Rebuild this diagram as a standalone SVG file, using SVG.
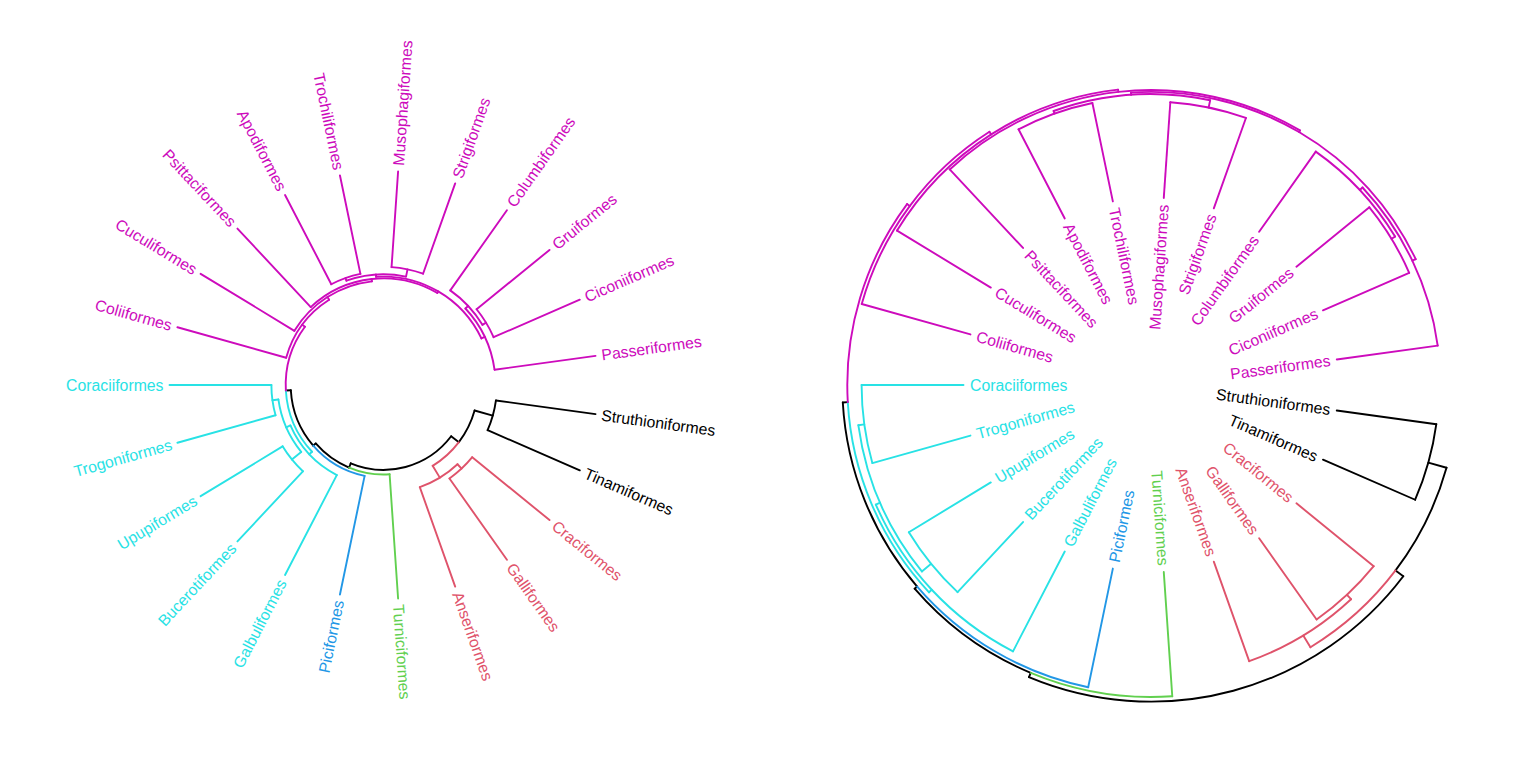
<svg xmlns="http://www.w3.org/2000/svg" width="1536" height="768" viewBox="0 0 1536 768">
<style>
.e path{fill:none;stroke-width:1.9;stroke-linecap:round}
.k path{stroke:#000}.r path{stroke:#DF536B}.g path{stroke:#61D04F}.b path{stroke:#2297E6}.c path{stroke:#28E2E5}.m path{stroke:#CD0BBC}
text{font-family:"Liberation Sans",Arial,Helvetica,sans-serif;font-size:15.8px}
.tk{fill:#000}.tr{fill:#DF536B}.tg{fill:#61D04F}.tb{fill:#2297E6}.tc{fill:#28E2E5}.tm{fill:#CD0BBC}
.s{text-anchor:start}.n{text-anchor:end}
</style>
<rect width="1536" height="768" fill="#fff"/>

<g id="left-tree" transform="translate(383.5 385)">
<g id="left-connectors" class="e">
<g class="k">
<path d="M84.9 0A84.9 84.9 0 1 1-84.9 0A84.9 84.9 0 1 1 84.9 0" pathLength="360" stroke-dasharray="75.5 360" transform="rotate(37.17)"/>
<path d="M94.6 0A94.6 94.6 0 1 1-94.6 0A94.6 94.6 0 1 1 94.6 0" pathLength="360" stroke-dasharray="21.52 360" transform="rotate(15.65)"/>
<path d="M113.5 0A113.5 113.5 0 1 1-113.5 0A113.5 113.5 0 1 1 113.5 0" pathLength="360" stroke-dasharray="15.65 360" transform="rotate(7.83)"/>
<path d="M89.5 0A89.5 89.5 0 1 1-89.5 0A89.5 89.5 0 1 1 89.5 0" pathLength="360" stroke-dasharray="26.58 360" transform="rotate(112.67)"/>
<path d="M92.8 0A92.8 92.8 0 1 1-92.8 0A92.8 92.8 0 1 1 92.8 0" pathLength="360" stroke-dasharray="37.51 360" transform="rotate(139.25)"/>
<path d="M84.9 0H94.6" transform="rotate(37.17)"/>
<path d="M84.9 0H89.5" transform="rotate(112.67)"/>
<path d="M94.6 0H113.5" transform="rotate(15.65)"/>
<path d="M113.5 0H214" transform="rotate(7.83)"/>
<path d="M113.5 0H214" transform="rotate(23.48)"/>
<path d="M89.5 0H92.8" transform="rotate(139.25)"/>
<path d="M92.8 0H97.8" transform="rotate(176.76)"/>
</g>
<g class="r">
<path d="M94.6 0A94.6 94.6 0 1 1-94.6 0A94.6 94.6 0 1 1 94.6 0" pathLength="360" stroke-dasharray="21.53 360" transform="rotate(37.17)"/>
<path d="M108.4 0A108.4 108.4 0 1 1-108.4 0A108.4 108.4 0 1 1 108.4 0" pathLength="360" stroke-dasharray="23.47 360" transform="rotate(46.96)"/>
<path d="M114.4 0A114.4 114.4 0 1 1-114.4 0A114.4 114.4 0 1 1 114.4 0" pathLength="360" stroke-dasharray="15.65 360" transform="rotate(39.13)"/>
<path d="M94.6 0H108.4" transform="rotate(58.70)"/>
<path d="M108.4 0H114.4" transform="rotate(46.96)"/>
<path d="M108.4 0H214" transform="rotate(70.43)"/>
<path d="M114.4 0H214" transform="rotate(39.13)"/>
<path d="M114.4 0H214" transform="rotate(54.78)"/>
</g>
<g class="g">
<path d="M89.5 0A89.5 89.5 0 1 1-89.5 0A89.5 89.5 0 1 1 89.5 0" pathLength="360" stroke-dasharray="26.58 360" transform="rotate(86.09)"/>
<path d="M89.5 0H214" transform="rotate(86.09)"/>
</g>
<g class="b">
<path d="M92.8 0A92.8 92.8 0 1 1-92.8 0A92.8 92.8 0 1 1 92.8 0" pathLength="360" stroke-dasharray="37.51 360" transform="rotate(101.74)"/>
<path d="M92.8 0H214" transform="rotate(101.74)"/>
</g>
<g class="c">
<path d="M97.8 0A97.8 97.8 0 1 1-97.8 0A97.8 97.8 0 1 1 97.8 0" pathLength="360" stroke-dasharray="39.8 360" transform="rotate(136.96)"/>
<path d="M101.5 0A101.5 101.5 0 1 1-101.5 0A101.5 101.5 0 1 1 101.5 0" pathLength="360" stroke-dasharray="39.13 360" transform="rotate(117.39)"/>
<path d="M106.1 0A106.1 106.1 0 1 1-106.1 0A106.1 106.1 0 1 1 106.1 0" pathLength="360" stroke-dasharray="31.3 360" transform="rotate(140.87)"/>
<path d="M118.1 0A118.1 118.1 0 1 1-118.1 0A118.1 118.1 0 1 1 118.1 0" pathLength="360" stroke-dasharray="15.66 360" transform="rotate(133.04)"/>
<path d="M112.1 0A112.1 112.1 0 1 1-112.1 0A112.1 112.1 0 1 1 112.1 0" pathLength="360" stroke-dasharray="15.65 360" transform="rotate(164.35)"/>
<path d="M97.8 0H101.5" transform="rotate(136.96)"/>
<path d="M101.5 0H214" transform="rotate(117.39)"/>
<path d="M101.5 0H106.1" transform="rotate(156.52)"/>
<path d="M106.1 0H118.1" transform="rotate(140.87)"/>
<path d="M106.1 0H112.1" transform="rotate(172.17)"/>
<path d="M118.1 0H214" transform="rotate(133.04)"/>
<path d="M118.1 0H214" transform="rotate(148.70)"/>
<path d="M112.1 0H214" transform="rotate(164.35)"/>
<path d="M112.1 0H214" transform="rotate(180)"/>
</g>
<g class="m">
<path d="M97.8 0A97.8 97.8 0 1 1-97.8 0A97.8 97.8 0 1 1 97.8 0" pathLength="360" stroke-dasharray="39.8 360" transform="rotate(176.76)"/>
<path d="M101.1 0A101.1 101.1 0 1 1-101.1 0A101.1 101.1 0 1 1 101.1 0" pathLength="360" stroke-dasharray="41.82 360" transform="rotate(195.65)"/>
<path d="M104.3 0A104.3 104.3 0 1 1-104.3 0A104.3 104.3 0 1 1 104.3 0" pathLength="360" stroke-dasharray="52.34 360" transform="rotate(211.30)"/>
<path d="M106.6 0A106.6 106.6 0 1 1-106.6 0A106.6 106.6 0 1 1 106.6 0" pathLength="360" stroke-dasharray="73.37 360" transform="rotate(226.96)"/>
<path d="M108.4 0A108.4 108.4 0 1 1-108.4 0A108.4 108.4 0 1 1 108.4 0" pathLength="360" stroke-dasharray="68.48 360" transform="rotate(266.09)"/>
<path d="M110.7 0A110.7 110.7 0 1 1-110.7 0A110.7 110.7 0 1 1 110.7 0" pathLength="360" stroke-dasharray="31.31 360" transform="rotate(250.43)"/>
<path d="M113.5 0A113.5 113.5 0 1 1-113.5 0A113.5 113.5 0 1 1 113.5 0" pathLength="360" stroke-dasharray="15.65 360" transform="rotate(242.61)"/>
<path d="M118.1 0A118.1 118.1 0 1 1-118.1 0A118.1 118.1 0 1 1 118.1 0" pathLength="360" stroke-dasharray="15.66 360" transform="rotate(273.91)"/>
<path d="M112.1 0A112.1 112.1 0 1 1-112.1 0A112.1 112.1 0 1 1 112.1 0" pathLength="360" stroke-dasharray="35.21 360" transform="rotate(316.96)"/>
<path d="M115.8 0A115.8 115.8 0 1 1-115.8 0A115.8 115.8 0 1 1 115.8 0" pathLength="360" stroke-dasharray="23.48 360" transform="rotate(305.22)"/>
<path d="M120 0A120 120 0 1 1-120 0A120 120 0 1 1 120 0" pathLength="360" stroke-dasharray="15.65 360" transform="rotate(320.87)"/>
<path d="M97.8 0H101.1" transform="rotate(216.56)"/>
<path d="M101.1 0H214" transform="rotate(195.65)"/>
<path d="M101.1 0H104.3" transform="rotate(237.47)"/>
<path d="M104.3 0H214" transform="rotate(211.30)"/>
<path d="M104.3 0H106.6" transform="rotate(263.64)"/>
<path d="M106.6 0H214" transform="rotate(226.96)"/>
<path d="M106.6 0H108.4" transform="rotate(300.33)"/>
<path d="M108.4 0H110.7" transform="rotate(266.09)"/>
<path d="M108.4 0H112.1" transform="rotate(334.57)"/>
<path d="M110.7 0H113.5" transform="rotate(250.43)"/>
<path d="M110.7 0H118.1" transform="rotate(281.74)"/>
<path d="M113.5 0H214" transform="rotate(242.61)"/>
<path d="M113.5 0H214" transform="rotate(258.26)"/>
<path d="M118.1 0H214" transform="rotate(273.91)"/>
<path d="M118.1 0H214" transform="rotate(289.57)"/>
<path d="M112.1 0H115.8" transform="rotate(316.96)"/>
<path d="M112.1 0H214" transform="rotate(352.17)"/>
<path d="M115.8 0H214" transform="rotate(305.22)"/>
<path d="M115.8 0H120" transform="rotate(328.70)"/>
<path d="M120 0H214" transform="rotate(320.87)"/>
<path d="M120 0H214" transform="rotate(336.52)"/>
</g>
</g>
<g id="left-labels">
<g id="L-Struthioniformes"><text class="tk s" transform="rotate(7.83)" x="220" dy=".35em">Struthioniformes</text></g>
<g id="L-Tinamiformes"><text class="tk s" transform="rotate(23.48)" x="220" dy=".35em">Tinamiformes</text></g>
<g id="L-Craciformes"><text class="tr s" transform="rotate(39.13)" x="220" dy=".35em">Craciformes</text></g>
<g id="L-Galliformes"><text class="tr s" transform="rotate(54.78)" x="220" dy=".35em">Galliformes</text></g>
<g id="L-Anseriformes"><text class="tr s" transform="rotate(70.43)" x="220" dy=".35em">Anseriformes</text></g>
<g id="L-Turniciformes"><text class="tg s" transform="rotate(86.09)" x="220" dy=".35em">Turniciformes</text></g>
<g id="L-Piciformes"><text class="tb n" transform="rotate(-78.26)" x="-220" dy=".35em">Piciformes</text></g>
<g id="L-Galbuliformes"><text class="tc n" transform="rotate(-62.61)" x="-220" dy=".35em">Galbuliformes</text></g>
<g id="L-Bucerotiformes"><text class="tc n" transform="rotate(-46.96)" x="-220" dy=".35em">Bucerotiformes</text></g>
<g id="L-Upupiformes"><text class="tc n" transform="rotate(-31.30)" x="-220" dy=".35em">Upupiformes</text></g>
<g id="L-Trogoniformes"><text class="tc n" transform="rotate(-15.65)" x="-220" dy=".35em">Trogoniformes</text></g>
<g id="L-Coraciiformes"><text class="tc n" x="-220" dy=".35em">Coraciiformes</text></g>
<g id="L-Coliiformes"><text class="tm n" transform="rotate(15.65)" x="-220" dy=".35em">Coliiformes</text></g>
<g id="L-Cuculiformes"><text class="tm n" transform="rotate(31.30)" x="-220" dy=".35em">Cuculiformes</text></g>
<g id="L-Psittaciformes"><text class="tm n" transform="rotate(46.96)" x="-220" dy=".35em">Psittaciformes</text></g>
<g id="L-Apodiformes"><text class="tm n" transform="rotate(62.61)" x="-220" dy=".35em">Apodiformes</text></g>
<g id="L-Trochiliformes"><text class="tm n" transform="rotate(78.26)" x="-220" dy=".35em">Trochiliformes</text></g>
<g id="L-Musophagiformes"><text class="tm s" transform="rotate(-86.09)" x="220" dy=".35em">Musophagiformes</text></g>
<g id="L-Strigiformes"><text class="tm s" transform="rotate(-70.43)" x="220" dy=".35em">Strigiformes</text></g>
<g id="L-Columbiformes"><text class="tm s" transform="rotate(-54.78)" x="220" dy=".35em">Columbiformes</text></g>
<g id="L-Gruiformes"><text class="tm s" transform="rotate(-39.13)" x="220" dy=".35em">Gruiformes</text></g>
<g id="L-Ciconiiformes"><text class="tm s" transform="rotate(-23.48)" x="220" dy=".35em">Ciconiiformes</text></g>
<g id="L-Passeriformes"><text class="tm s" transform="rotate(-7.83)" x="220" dy=".35em">Passeriformes</text></g>
</g>
</g>

<g id="right-tree" transform="translate(1151 385)">
<g id="right-connectors" class="e">
<g class="k">
<path d="M316.6 0A316.6 316.6 0 1 1-316.6 0A316.6 316.6 0 1 1 316.6 0" pathLength="360" stroke-dasharray="75.5 360" transform="rotate(37.17)"/>
<path d="M306.9 0A306.9 306.9 0 1 1-306.9 0A306.9 306.9 0 1 1 306.9 0" pathLength="360" stroke-dasharray="21.52 360" transform="rotate(15.65)"/>
<path d="M288 0A288 288 0 1 1-288 0A288 288 0 1 1 288 0" pathLength="360" stroke-dasharray="15.65 360" transform="rotate(7.83)"/>
<path d="M312 0A312 312 0 1 1-312 0A312 312 0 1 1 312 0" pathLength="360" stroke-dasharray="26.58 360" transform="rotate(112.67)"/>
<path d="M308.7 0A308.7 308.7 0 1 1-308.7 0A308.7 308.7 0 1 1 308.7 0" pathLength="360" stroke-dasharray="37.51 360" transform="rotate(139.25)"/>
<path d="M316.6 0H306.9" transform="rotate(37.17)"/>
<path d="M316.6 0H312" transform="rotate(112.67)"/>
<path d="M306.9 0H288" transform="rotate(15.65)"/>
<path d="M288 0H187.5" transform="rotate(7.83)"/>
<path d="M288 0H187.5" transform="rotate(23.48)"/>
<path d="M312 0H308.7" transform="rotate(139.25)"/>
<path d="M308.7 0H303.7" transform="rotate(176.76)"/>
</g>
<g class="r">
<path d="M306.9 0A306.9 306.9 0 1 1-306.9 0A306.9 306.9 0 1 1 306.9 0" pathLength="360" stroke-dasharray="21.53 360" transform="rotate(37.17)"/>
<path d="M293.1 0A293.1 293.1 0 1 1-293.1 0A293.1 293.1 0 1 1 293.1 0" pathLength="360" stroke-dasharray="23.47 360" transform="rotate(46.96)"/>
<path d="M287.1 0A287.1 287.1 0 1 1-287.1 0A287.1 287.1 0 1 1 287.1 0" pathLength="360" stroke-dasharray="15.65 360" transform="rotate(39.13)"/>
<path d="M306.9 0H293.1" transform="rotate(58.70)"/>
<path d="M293.1 0H287.1" transform="rotate(46.96)"/>
<path d="M293.1 0H187.5" transform="rotate(70.43)"/>
<path d="M287.1 0H187.5" transform="rotate(39.13)"/>
<path d="M287.1 0H187.5" transform="rotate(54.78)"/>
</g>
<g class="g">
<path d="M312 0A312 312 0 1 1-312 0A312 312 0 1 1 312 0" pathLength="360" stroke-dasharray="26.58 360" transform="rotate(86.09)"/>
<path d="M312 0H187.5" transform="rotate(86.09)"/>
</g>
<g class="b">
<path d="M308.7 0A308.7 308.7 0 1 1-308.7 0A308.7 308.7 0 1 1 308.7 0" pathLength="360" stroke-dasharray="37.51 360" transform="rotate(101.74)"/>
<path d="M308.7 0H187.5" transform="rotate(101.74)"/>
</g>
<g class="c">
<path d="M303.7 0A303.7 303.7 0 1 1-303.7 0A303.7 303.7 0 1 1 303.7 0" pathLength="360" stroke-dasharray="39.8 360" transform="rotate(136.96)"/>
<path d="M300 0A300 300 0 1 1-300 0A300 300 0 1 1 300 0" pathLength="360" stroke-dasharray="39.13 360" transform="rotate(117.39)"/>
<path d="M295.4 0A295.4 295.4 0 1 1-295.4 0A295.4 295.4 0 1 1 295.4 0" pathLength="360" stroke-dasharray="31.3 360" transform="rotate(140.87)"/>
<path d="M283.4 0A283.4 283.4 0 1 1-283.4 0A283.4 283.4 0 1 1 283.4 0" pathLength="360" stroke-dasharray="15.66 360" transform="rotate(133.04)"/>
<path d="M289.4 0A289.4 289.4 0 1 1-289.4 0A289.4 289.4 0 1 1 289.4 0" pathLength="360" stroke-dasharray="15.65 360" transform="rotate(164.35)"/>
<path d="M303.7 0H300" transform="rotate(136.96)"/>
<path d="M300 0H187.5" transform="rotate(117.39)"/>
<path d="M300 0H295.4" transform="rotate(156.52)"/>
<path d="M295.4 0H283.4" transform="rotate(140.87)"/>
<path d="M295.4 0H289.4" transform="rotate(172.17)"/>
<path d="M283.4 0H187.5" transform="rotate(133.04)"/>
<path d="M283.4 0H187.5" transform="rotate(148.70)"/>
<path d="M289.4 0H187.5" transform="rotate(164.35)"/>
<path d="M289.4 0H187.5" transform="rotate(180)"/>
</g>
<g class="m">
<path d="M303.7 0A303.7 303.7 0 1 1-303.7 0A303.7 303.7 0 1 1 303.7 0" pathLength="360" stroke-dasharray="39.8 360" transform="rotate(176.76)"/>
<path d="M300.4 0A300.4 300.4 0 1 1-300.4 0A300.4 300.4 0 1 1 300.4 0" pathLength="360" stroke-dasharray="41.82 360" transform="rotate(195.65)"/>
<path d="M297.2 0A297.2 297.2 0 1 1-297.2 0A297.2 297.2 0 1 1 297.2 0" pathLength="360" stroke-dasharray="52.34 360" transform="rotate(211.30)"/>
<path d="M294.9 0A294.9 294.9 0 1 1-294.9 0A294.9 294.9 0 1 1 294.9 0" pathLength="360" stroke-dasharray="73.37 360" transform="rotate(226.96)"/>
<path d="M293.1 0A293.1 293.1 0 1 1-293.1 0A293.1 293.1 0 1 1 293.1 0" pathLength="360" stroke-dasharray="68.48 360" transform="rotate(266.09)"/>
<path d="M290.8 0A290.8 290.8 0 1 1-290.8 0A290.8 290.8 0 1 1 290.8 0" pathLength="360" stroke-dasharray="31.31 360" transform="rotate(250.43)"/>
<path d="M288 0A288 288 0 1 1-288 0A288 288 0 1 1 288 0" pathLength="360" stroke-dasharray="15.65 360" transform="rotate(242.61)"/>
<path d="M283.4 0A283.4 283.4 0 1 1-283.4 0A283.4 283.4 0 1 1 283.4 0" pathLength="360" stroke-dasharray="15.66 360" transform="rotate(273.91)"/>
<path d="M289.4 0A289.4 289.4 0 1 1-289.4 0A289.4 289.4 0 1 1 289.4 0" pathLength="360" stroke-dasharray="35.21 360" transform="rotate(316.96)"/>
<path d="M285.7 0A285.7 285.7 0 1 1-285.7 0A285.7 285.7 0 1 1 285.7 0" pathLength="360" stroke-dasharray="23.48 360" transform="rotate(305.22)"/>
<path d="M281.5 0A281.5 281.5 0 1 1-281.5 0A281.5 281.5 0 1 1 281.5 0" pathLength="360" stroke-dasharray="15.65 360" transform="rotate(320.87)"/>
<path d="M303.7 0H300.4" transform="rotate(216.56)"/>
<path d="M300.4 0H187.5" transform="rotate(195.65)"/>
<path d="M300.4 0H297.2" transform="rotate(237.47)"/>
<path d="M297.2 0H187.5" transform="rotate(211.30)"/>
<path d="M297.2 0H294.9" transform="rotate(263.64)"/>
<path d="M294.9 0H187.5" transform="rotate(226.96)"/>
<path d="M294.9 0H293.1" transform="rotate(300.33)"/>
<path d="M293.1 0H290.8" transform="rotate(266.09)"/>
<path d="M293.1 0H289.4" transform="rotate(334.57)"/>
<path d="M290.8 0H288" transform="rotate(250.43)"/>
<path d="M290.8 0H283.4" transform="rotate(281.74)"/>
<path d="M288 0H187.5" transform="rotate(242.61)"/>
<path d="M288 0H187.5" transform="rotate(258.26)"/>
<path d="M283.4 0H187.5" transform="rotate(273.91)"/>
<path d="M283.4 0H187.5" transform="rotate(289.57)"/>
<path d="M289.4 0H285.7" transform="rotate(316.96)"/>
<path d="M289.4 0H187.5" transform="rotate(352.17)"/>
<path d="M285.7 0H187.5" transform="rotate(305.22)"/>
<path d="M285.7 0H281.5" transform="rotate(328.70)"/>
<path d="M281.5 0H187.5" transform="rotate(320.87)"/>
<path d="M281.5 0H187.5" transform="rotate(336.52)"/>
</g>
</g>
<g id="right-labels">
<g id="R-Struthioniformes"><text class="tk n" transform="rotate(7.83)" x="181" dy=".35em">Struthioniformes</text></g>
<g id="R-Tinamiformes"><text class="tk n" transform="rotate(23.48)" x="181" dy=".35em">Tinamiformes</text></g>
<g id="R-Craciformes"><text class="tr n" transform="rotate(39.13)" x="181" dy=".35em">Craciformes</text></g>
<g id="R-Galliformes"><text class="tr n" transform="rotate(54.78)" x="181" dy=".35em">Galliformes</text></g>
<g id="R-Anseriformes"><text class="tr n" transform="rotate(70.43)" x="181" dy=".35em">Anseriformes</text></g>
<g id="R-Turniciformes"><text class="tg n" transform="rotate(86.09)" x="181" dy=".35em">Turniciformes</text></g>
<g id="R-Piciformes"><text class="tb s" transform="rotate(-78.26)" x="-181" dy=".35em">Piciformes</text></g>
<g id="R-Galbuliformes"><text class="tc s" transform="rotate(-62.61)" x="-181" dy=".35em">Galbuliformes</text></g>
<g id="R-Bucerotiformes"><text class="tc s" transform="rotate(-46.96)" x="-181" dy=".35em">Bucerotiformes</text></g>
<g id="R-Upupiformes"><text class="tc s" transform="rotate(-31.30)" x="-181" dy=".35em">Upupiformes</text></g>
<g id="R-Trogoniformes"><text class="tc s" transform="rotate(-15.65)" x="-181" dy=".35em">Trogoniformes</text></g>
<g id="R-Coraciiformes"><text class="tc s" x="-181" dy=".35em">Coraciiformes</text></g>
<g id="R-Coliiformes"><text class="tm s" transform="rotate(15.65)" x="-181" dy=".35em">Coliiformes</text></g>
<g id="R-Cuculiformes"><text class="tm s" transform="rotate(31.30)" x="-181" dy=".35em">Cuculiformes</text></g>
<g id="R-Psittaciformes"><text class="tm s" transform="rotate(46.96)" x="-181" dy=".35em">Psittaciformes</text></g>
<g id="R-Apodiformes"><text class="tm s" transform="rotate(62.61)" x="-181" dy=".35em">Apodiformes</text></g>
<g id="R-Trochiliformes"><text class="tm s" transform="rotate(78.26)" x="-181" dy=".35em">Trochiliformes</text></g>
<g id="R-Musophagiformes"><text class="tm n" transform="rotate(-86.09)" x="181" dy=".35em">Musophagiformes</text></g>
<g id="R-Strigiformes"><text class="tm n" transform="rotate(-70.43)" x="181" dy=".35em">Strigiformes</text></g>
<g id="R-Columbiformes"><text class="tm n" transform="rotate(-54.78)" x="181" dy=".35em">Columbiformes</text></g>
<g id="R-Gruiformes"><text class="tm n" transform="rotate(-39.13)" x="181" dy=".35em">Gruiformes</text></g>
<g id="R-Ciconiiformes"><text class="tm n" transform="rotate(-23.48)" x="181" dy=".35em">Ciconiiformes</text></g>
<g id="R-Passeriformes"><text class="tm n" transform="rotate(-7.83)" x="181" dy=".35em">Passeriformes</text></g>
</g>
</g>
</svg>
